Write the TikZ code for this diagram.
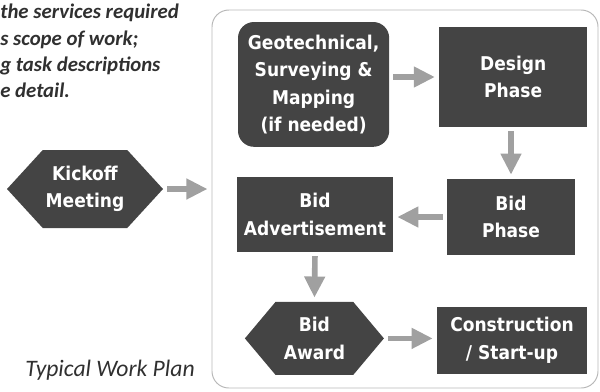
\documentclass[tikz,border=0pt]{standalone}
\usepackage{fontspec}
\setmainfont{Carlito}
\newfontfamily\boxfont{DejaVu Sans Condensed}[BoldFont={DejaVu Sans Condensed Bold}]
\usetikzlibrary{arrows.meta,shapes.symbols}
\definecolor{boxgray}{HTML}{444444}
\definecolor{arrowgray}{HTML}{A0A0A0}
\definecolor{framegray}{HTML}{B8B8B8}
\definecolor{notegray}{HTML}{303030}
\begin{document}
\begin{tikzpicture}[
    task/.style={rectangle, fill=boxgray, text=white, inner sep=0pt, align=center, font=\boxfont\bfseries\fontsize{13.5}{19.5}\selectfont},
    milestone/.style={task, signal, signal to=east and west},
    flow/.style={-{Triangle[length=15pt, width=14pt]}, line width=4pt, arrowgray, shorten <=0.1cm, shorten >=0.1cm},
    note/.style={inner sep=0pt, text=notegray, align=left},
]
\useasboundingbox (0,0) rectangle (15,-9.775);
\node[draw=framegray, line width=0.7pt, rounded corners=0.42cm, minimum width=9.65cm, minimum height=9.45cm] (plan) at (10.125,-4.975) {};
\node[note, anchor=north west, font=\bfseries\itshape\fontsize{14.8}{18.6}\selectfont] (intro) at (0,-0.1) {the services required\\s scope of work;\\g task descriptions\\e detail.};
\node[note, anchor=base west, font=\itshape\fontsize{16.8}{18}\selectfont] (caption) at (0.625,-9.4) {Typical Work Plan};
\node[milestone, signal pointer angle=95, minimum width=3.9cm, minimum height=1.95cm] (kick) at (2.125,-4.725) {Kickoff\\Meeting};
\node[task, rounded corners=0.4cm, minimum width=3.78cm, minimum height=3.12cm] (geo) at (7.84,-2.11) {Geotechnical,\\Surveying \&\\Mapping\\(if needed)};
\node[task, minimum width=3.7cm, minimum height=2.5cm] (design) at (12.83,-1.925) {Design\\Phase};
\node[task, minimum width=3.2cm, minimum height=1.9cm] (bid) at (12.775,-5.425) {Bid\\Phase};
\node[task, minimum width=3.9cm, minimum height=1.875cm] (advert) at (7.875,-5.36) {Bid\\Advertisement};
\node[milestone, signal pointer angle=100, minimum width=3.475cm, minimum height=1.825cm] (award) at (7.86,-8.46) {Bid\\Award};
\node[task, minimum width=3.75cm, minimum height=1.675cm] (build) at (12.8,-8.51) {Construction\\/ Start-up};
\draw[flow] (kick.east) -- (kick.east -| plan.west);
\draw[flow] (geo.east |- design.west) -- (design.west);
\draw[flow] (design.south -| bid.north) -- (bid.north);
\draw[flow] (bid.west) -- (bid.west -| advert.east);
\draw[flow] (advert.south) -- (award.north);
\draw[flow] (award.east) -- (award.east -| build.west);
\end{tikzpicture}
\end{document}
